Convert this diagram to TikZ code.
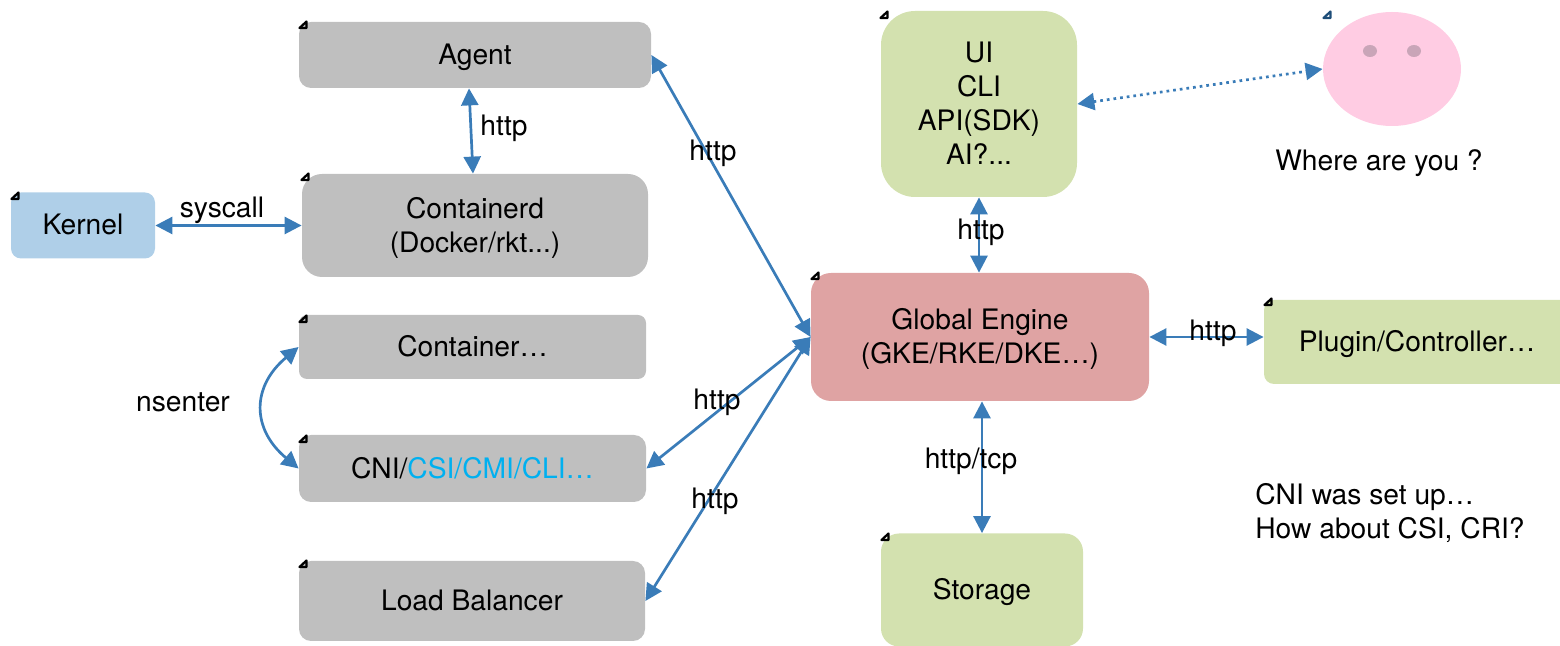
\documentclass[tikz,border=0pt]{standalone}
\usepackage{fontspec}
\setmainfont{TeX Gyre Heros}
\usetikzlibrary{arrows.meta,shapes.geometric}
\definecolor{linkblue}{HTML}{3A7CB8}
\definecolor{boxgray}{HTML}{BFBFBF}
\definecolor{boxgreen}{HTML}{D3E1AF}
\definecolor{boxblue}{HTML}{AFCFE8}
\definecolor{boxred}{HTML}{DFA3A3}
\definecolor{facepink}{HTML}{FFCCE3}
\definecolor{eyepink}{HTML}{C9A5B8}
\definecolor{csiblue}{HTML}{00B0F0}
\definecolor{markblue}{HTML}{1F4E79}
\newcommand{\cornermark}[3][black]{\draw[#1,line width=1.1pt,line join=round] (#2,#3) ++(-3.5,3) -- ++(7,0) -- ++(0,-6.5) -- cycle;}
\begin{document}
\begin{tikzpicture}[x=0.5pt,y=-0.5pt]
\tikzstyle{every node}=[font=\fontsize{14.1pt}{17pt}\selectfont,align=center,inner sep=0pt,text=black,text depth=0.8pt];
\tikzstyle{box}=[rounded corners=6pt];
\tikzstyle{link}=[{Triangle[length=8.5pt,width=8.5pt]}-{Triangle[length=8.5pt,width=8.5pt]},draw=linkblue,fill=none,line width=1.35pt];
\useasboundingbox (0,0) rectangle (1560,646);
\clip (0,0) rectangle (1560,646);
\node[box,fill=boxgray,minimum width=176pt,minimum height=33pt] (agent) at (475,55) {Agent};
\node[box,fill=boxgray,rounded corners=10pt,minimum width=173pt,minimum height=51.5pt] (containerd) at (475,225.5) {Containerd\\(Docker/rkt...)};
\node[box,fill=boxblue,rounded corners=5pt,minimum width=72pt,minimum height=33pt] (kernel) at (83,225.5) {Kernel};
\node[box,fill=boxgray,rounded corners=4pt,minimum width=173.5pt,minimum height=32pt] (container) at (472.5,347) {Container…};
\node[box,fill=boxgray,minimum width=173.5pt,minimum height=33.5pt] (cni) at (472.5,468.5) {CNI/\textcolor{csiblue}{CSI/CMI/CLI…}};
\node[box,fill=boxgray,minimum width=173pt,minimum height=40pt] (lb) at (472,601) {Load Balancer};
\node[box,fill=boxgreen,rounded corners=17pt,minimum width=98pt,minimum height=93pt] (ui) at (979,104) {UI\\CLI\\API(SDK)\\AI?...};
\node[box,fill=boxred,rounded corners=10pt,minimum width=169pt,minimum height=64pt] (engine) at (980,337) {Global Engine\\(GKE/RKE/DKE…)};
\node[box,fill=boxgreen,rounded corners=5pt,minimum width=153pt,minimum height=42pt] (plugin) at (1417,342) {Plugin/Controller…};
\node[box,fill=boxgreen,rounded corners=9pt,minimum width=101pt,minimum height=56.5pt] (storage) at (982,590) {Storage};
\node[ellipse,fill=facepink,minimum width=69pt,minimum height=57pt] (face) at (1392,69) {};
\node[ellipse,fill=eyepink,minimum width=7pt,minimum height=6pt] (eyeleft) at (1370,51) {};
\node[ellipse,fill=eyepink,minimum width=7pt,minimum height=6pt] (eyeright) at (1414,51) {};
\cornermark{303}{25}
\cornermark{305}{177}
\cornermark{15}{196}
\cornermark{303}{319}
\cornermark{303}{439}
\cornermark{303}{564}
\cornermark{884}{15}
\cornermark{815}{276}
\cornermark{1268}{302}
\cornermark{885}{537}
\cornermark[markblue]{1327}{15}
\draw[link] ([xshift=-3pt]agent.south) -- ([xshift=-1pt]containerd.north);
\draw[link] (kernel.east) -- (containerd.west);
\draw[link] (agent.east) -- (engine.west);
\draw[link] (cni.east) -- (engine.west);
\draw[link] (lb.east) -- (engine.west);
\draw[link] (ui.south) -- ([xshift=-0.5pt]engine.north);
\draw[link] ([yshift=2.5pt]plugin.west) -- (engine.east);
\draw[link] (storage.north) -- ([xshift=1pt]engine.south);
\draw[link,dotted] (ui.east) -- (face.west);
\draw[link] (container.west) to[bend right=50,looseness=1.3] (cni.west);
\node (http1) at (504,126) {http};
\node (syscall) at (222,208) {syscall};
\node (http2) at (713,151) {http};
\node (http3) at (981,230) {http};
\node (http4) at (1213,331) {http};
\node (http5) at (717,400) {http};
\node (http6) at (715,499) {http};
\node (httptcp) at (971,459) {http/tcp};
\node (nsenter) at (183,403) {nsenter};
\node (where) at (1379,161) {Where are you ?};
\node[align=left] (question) at (1390,512) {CNI was set up…\\How about CSI, CRI?};
\end{tikzpicture}
\end{document}
